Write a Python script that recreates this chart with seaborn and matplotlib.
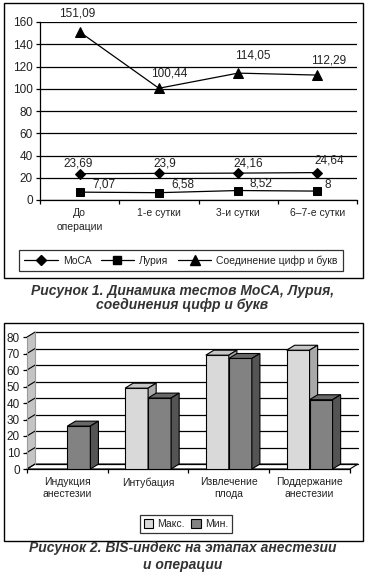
import numpy as np
import pandas as pd
import matplotlib
matplotlib.use("Agg")
import matplotlib.pyplot as plt
from matplotlib.patches import Polygon, Rectangle, Patch
from matplotlib.lines import Line2D
from matplotlib.ticker import FixedLocator
import seaborn as sns

## data, figure 1
stages1 = ['До\nоперации', '1-е сутки', '3-и сутки', '6–7-е сутки']
moca = [23.69, 23.9, 24.16, 24.64]
luria = [7.07, 6.58, 8.52, 8]
tmt = [151.09, 100.44, 114.05, 112.29]
names1 = ['МоСА', 'Лурия', 'Соединение цифр и букв']

## data, figure 2
stages2 = ['Индукция\nанестезии', 'Интубация', 'Извлечение\nплода', 'Поддержание\nанестезии']
bis_max = [np.nan, 49, 69, 72]
bis_min = [26, 43, 67, 42]
names2 = ['Макс.', 'Мин.']

caption1 = 'Рисунок 1. Динамика тестов МоСА, Лурия,\nсоединения цифр и букв'
caption2 = 'Рисунок 2. BIS-индекс на этапах анестезии\nи операции'

sns.set_theme(style='white')
plt.rcParams['font.family'] = ['Liberation Sans', 'DejaVu Sans']
txt = '#222222'
fs_txt = 7.5
fs_num = 8.5

W, H = 367, 576
fig = plt.figure(figsize=(W / 100, H / 100), dpi=100)
fig.patch.set_facecolor('white')

def box(x0, y0, x1, y1):
    return [x0 / W, 1 - y1 / H, (x1 - x0) / W, (y1 - y0) / H]

# frames round both panels
for (x0, y0, x1, y1) in [(4, 3, 363, 278), (4, 323, 363, 541)]:
    fig.add_artist(Rectangle((x0 / W, 1 - y1 / H), (x1 - x0) / W, (y1 - y0) / H,
                             transform=fig.transFigure, fill=False, ec='black', lw=1))

# ---------- figure 1: lines ----------
ax1 = fig.add_axes(box(40, 22, 357, 200))
markers = ['D', 's', '^']
msizes = [5, 5.5, 6.5]
series = [moca, luria, tmt]
# label offsets in px (dx, dy)
offs = [[(-2, 10), (6, 10), (10, 10), (12, 12)],
        [(24, 8), (24, 8), (23, 7), (10, 6)],
        [(-2, 18), (10, 15), (15, 18), (11, 15)]]
xs = np.arange(len(stages1))
for vals, m, ms, nm, off in zip(series, markers, msizes, names1, offs):
    sns.lineplot(x=xs, y=vals, marker=m, markersize=ms, color='black', lw=0.9,
                 markeredgecolor='black', ax=ax1, zorder=3, label=nm, legend=False)
    for xi, v, (dx, dy) in zip(xs, vals, off):
        ax1.annotate(str(v).replace('.', ','), (xi, v), xytext=(dx * 0.72, dy * 0.72),
                     textcoords='offset points', ha='center', va='center',
                     fontsize=fs_num, color=txt)

ax1.set_xlim(-0.5, 3.5)
ax1.set_ylim(0, 160)
ax1.set_yticks(range(0, 161, 20))
ax1.yaxis.grid(True, color='black', lw=0.9)
ax1.xaxis.grid(False)
ax1.set_xticks(xs)
ax1.set_xticklabels(stages1, linespacing=1.45)
ax1.xaxis.set_minor_locator(FixedLocator(np.arange(-0.5, 3.6, 1)))
ax1.tick_params(axis='x', which='major', length=0, pad=6, labelsize=fs_txt, colors=txt)
ax1.tick_params(axis='x', which='minor', length=3, width=0.9, color='black', direction='out', bottom=True)
ax1.tick_params(axis='y', length=3, width=0.9, color='black', direction='out', left=True,
                labelsize=fs_num, labelcolor=txt, pad=2)
for s in ['top', 'right']:
    ax1.spines[s].set_visible(False)
for s in ['left', 'bottom']:
    ax1.spines[s].set_color('black')
    ax1.spines[s].set_linewidth(0.9)
ax1.set_xlabel('')
ax1.set_ylabel('')

h1 = [Line2D([], [], color='black', lw=0.9, marker=m, markersize=ms) for m, ms in zip(markers, msizes)]
leg1 = fig.legend(h1, names1, loc='center', bbox_to_anchor=(181 / W, 1 - 260.5 / H), ncol=3,
                  fontsize=fs_txt, frameon=True, fancybox=False, edgecolor='black',
                  handlelength=3.2, columnspacing=0.9, handletextpad=0.5, borderpad=0.5)
leg1.get_frame().set_linewidth(0.9)
for t in leg1.get_texts():
    t.set_color(txt)

# ---------- figure 2: pseudo-3D bars ----------
ax2 = fig.add_axes(box(27, 337, 358, 469))
ddx, ddy = 0.1, 3.0
df2 = pd.DataFrame({
    'stage': stages2 * 2,
    'value': bis_max + bis_min,
    'series': [names2[0]] * 4 + [names2[1]] * 4,
})
pal = {names2[0]: '#d9d9d9', names2[1]: '#828282'}
sns.barplot(data=df2, x='stage', y='value', hue='series', palette=pal, width=0.57,
            edgecolor='black', linewidth=0.8, errorbar=None, legend=False, ax=ax2,
            order=stages2, hue_order=names2)

# walls and floor
x_l, x_r = -0.5, 3.5
ax2.add_patch(Polygon([(x_l, 0), (x_l, 80), (x_l + ddx, 80 + ddy), (x_l + ddx, ddy)],
                      closed=True, fc='#c4c4c4', ec='none', zorder=1, clip_on=False))
ax2.add_patch(Polygon([(x_l, 0), (x_r, 0), (x_r + ddx, ddy), (x_l + ddx, ddy)],
                      closed=True, fc='white', ec='black', lw=0.8, zorder=1, clip_on=False))
for v in range(0, 81, 10):
    ax2.plot([x_l + ddx, x_r + ddx], [v + ddy, v + ddy], color='black', lw=0.9, zorder=1.5, clip_on=False)
    ax2.plot([x_l, x_l + ddx], [v, v + ddy], color='black', lw=0.8, zorder=1.5, clip_on=False)
ax2.plot([x_l + ddx, x_l + ddx], [ddy, 80 + ddy], color='#9a9a9a', lw=0.8, zorder=1.5, clip_on=False)
ax2.plot([x_l, x_l], [0, 80], color='#9a9a9a', lw=0.8, zorder=1.5, clip_on=False)

shade = [('#c6c6c6', '#a9a9a9'), ('#686868', '#545454')]
for i, cont in enumerate(ax2.containers):
    for bar in cont:
        h = bar.get_height()
        bar.set_zorder(3 + i)
        if not np.isfinite(h) or h == 0:
            continue
        x0 = bar.get_x()
        x1 = x0 + bar.get_width()
        ax2.add_patch(Polygon([(x0, h), (x1, h), (x1 + ddx, h + ddy), (x0 + ddx, h + ddy)],
                              closed=True, fc=shade[i][0], ec='black', lw=0.8, zorder=3 + i, clip_on=False))
        ax2.add_patch(Polygon([(x1, 0), (x1, h), (x1 + ddx, h + ddy), (x1 + ddx, ddy)],
                              closed=True, fc=shade[i][1], ec='black', lw=0.8, zorder=3 + i, clip_on=False))

ax2.plot([x_l, x_r], [0, 0], color='black', lw=0.9, zorder=2, clip_on=False)
ax2.set_xlim(-0.5, 3.6)
ax2.set_ylim(0, 80)
ax2.set_yticks(range(0, 81, 10))
ax2.xaxis.set_minor_locator(FixedLocator(np.arange(-0.5, 3.6, 1)))
ax2.tick_params(axis='x', which='major', length=0, pad=6, labelsize=fs_txt, colors=txt)
ax2.tick_params(axis='x', which='minor', length=3, width=0.9, color='black', direction='out', bottom=True)
ax2.tick_params(axis='y', length=3, width=0.9, color='black', direction='out', left=True,
                labelsize=fs_num, labelcolor=txt, pad=2)
for s in ax2.spines.values():
    s.set_visible(False)
ax2.grid(False)
ax2.set_xlabel('')
ax2.set_ylabel('')
ax2.patch.set_alpha(0)

h2 = [Patch(fc=pal[n], ec='black', lw=0.8) for n in names2]
leg2 = fig.legend(h2, names2, loc='center', bbox_to_anchor=(186 / W, 1 - 524 / H), ncol=2,
                  fontsize=fs_txt, frameon=True, fancybox=False, edgecolor='black',
                  handlelength=0.9, handleheight=0.9, columnspacing=0.6, handletextpad=0.4,
                  borderpad=0.4)
leg2.get_frame().set_linewidth(0.9)
for t in leg2.get_texts():
    t.set_color(txt)

# captions
fig.text(0.497, 1 - 298 / H, caption1, ha='center', va='center', fontsize=10,
         fontweight='bold', fontstyle='italic', color='#333333', linespacing=1.0)
fig.text(0.497, 1 - 556.5 / H, caption2, ha='center', va='center', fontsize=10,
         fontweight='bold', fontstyle='italic', color='#333333', linespacing=1.25)

fig.savefig('out.png', dpi=100, facecolor='white')
